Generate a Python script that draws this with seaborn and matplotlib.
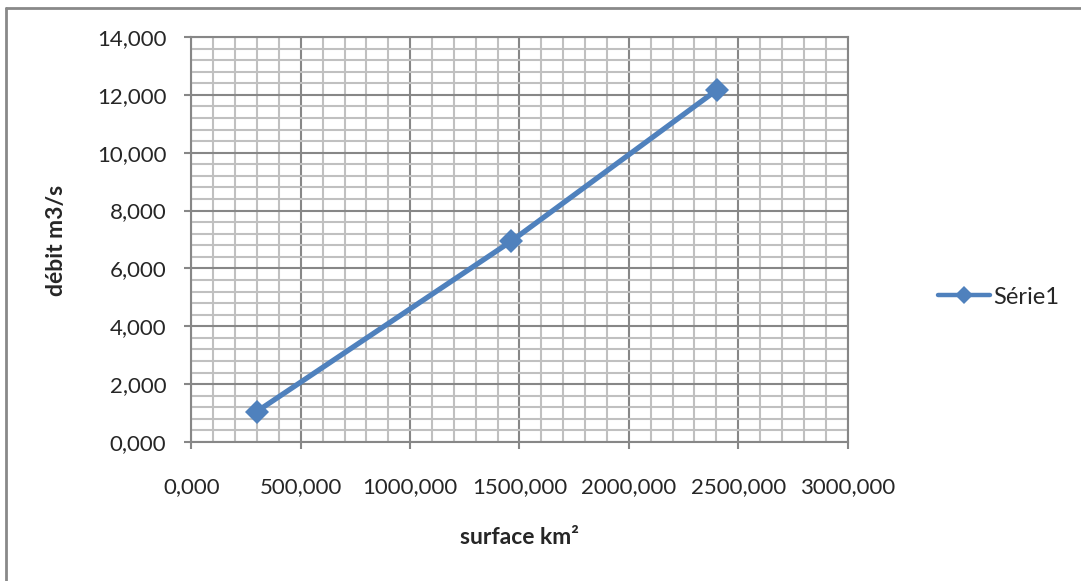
import matplotlib
matplotlib.use("Agg")
import matplotlib.pyplot as plt
import seaborn as sns
import pandas as pd
from matplotlib.ticker import MultipleLocator, FuncFormatter
from matplotlib.lines import Line2D

# data
surface = [298, 1462, 2401]
debit = [1.05, 6.94, 12.16]
serie = "Série1"

df = pd.DataFrame({"surface": surface, "debit": debit, "serie": serie})

sns.set_style("white")
plt.rcParams["font.family"] = ["Lato", "DejaVu Sans"]

fig = plt.figure(figsize=(10.81, 5.81), dpi=100)
ax = fig.add_axes([0.1771, 0.2392, 0.784 - 0.1771, 0.9363 - 0.2392])

sns.lineplot(data=df, x="surface", y="debit", hue="serie", palette=["#4F81BD"],
             marker="D", markersize=12, linewidth=3.8, markeredgewidth=0, ax=ax)

ax.set_xlim(0, 3000)
ax.set_ylim(0, 14)
ax.xaxis.set_major_locator(MultipleLocator(500))
ax.xaxis.set_minor_locator(MultipleLocator(100))
ax.yaxis.set_major_locator(MultipleLocator(2))
ax.yaxis.set_minor_locator(MultipleLocator(0.4))

fmt = FuncFormatter(lambda v, p: f"{v:.3f}".replace(".", ","))
ax.xaxis.set_major_formatter(fmt)
ax.yaxis.set_major_formatter(fmt)

ax.grid(which="major", color="#878787", linewidth=1.5)
ax.grid(which="minor", color="#c0c0c0", linewidth=1.5)
ax.set_axisbelow(True)
for s in ax.spines.values():
    s.set_color("#878787")
    s.set_linewidth(1.5)

ax.tick_params(which="major", direction="out", length=5, width=1.5, color="#878787",
               labelsize=16, left=True, bottom=True)
ax.tick_params(axis="y", which="major", pad=13)
ax.tick_params(axis="x", which="major", pad=20)
ax.tick_params(which="minor", length=0)

ax.set_xlabel("surface km²", fontsize=16.5, fontweight="bold")
ax.set_ylabel("débit m3/s", fontsize=16.5, fontweight="bold")
ax.xaxis.set_label_coords(519 / 1081, 1 - 538 / 581, transform=fig.transFigure)
ax.yaxis.set_label_coords(57 / 1081, 1 - 240 / 581, transform=fig.transFigure)
ax.xaxis.label.set_va("center")
ax.yaxis.label.set_va("center")

leg = ax.legend(loc="center left", bbox_to_anchor=(938 / 1081, 1 - 297 / 581), bbox_transform=fig.transFigure,
                frameon=False, fontsize=17, handlelength=2.2, handletextpad=0.15,
                borderpad=0, borderaxespad=0)
for h in leg.get_lines():
    h.set_markersize(9)
    h.set_linewidth(3.2)

# chart-area frame: only top and left edges visible in the crop
fig.add_artist(Line2D([6 / 1081, 1], [1 - 8 / 581, 1 - 8 / 581], transform=fig.transFigure,
                      color="#898989", linewidth=2))
fig.add_artist(Line2D([6 / 1081, 6 / 1081], [0, 1 - 8 / 581], transform=fig.transFigure,
                      color="#898989", linewidth=2))

fig.savefig("out.png", dpi=100)
